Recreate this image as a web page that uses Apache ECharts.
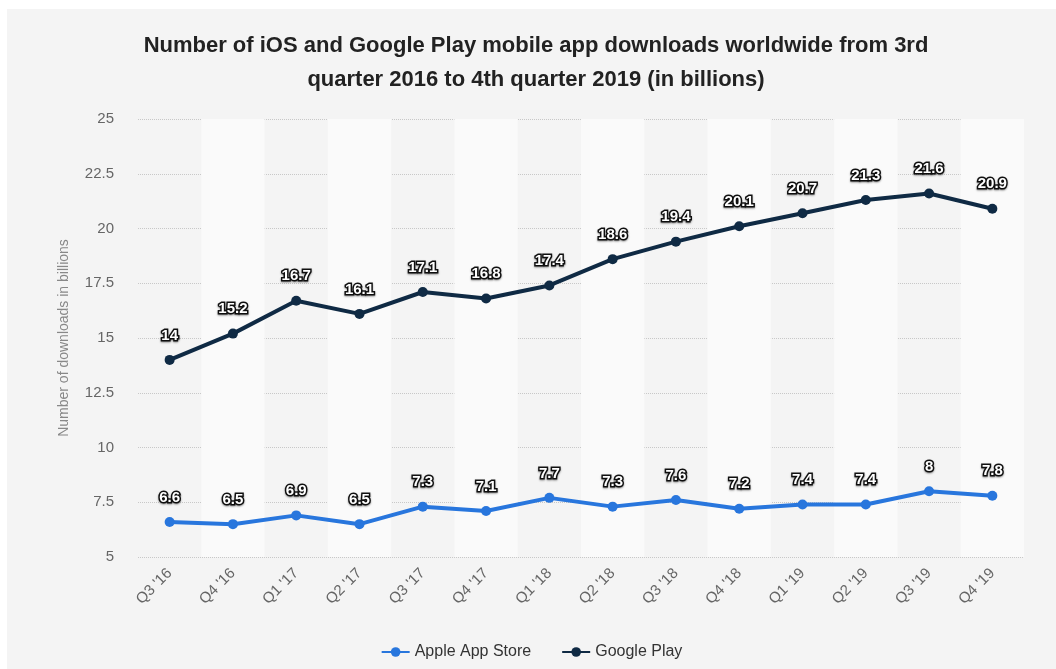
<!DOCTYPE html>
<html>
<head>
<meta charset="utf-8">
<script src="https://cdn.jsdelivr.net/npm/echarts@6/dist/echarts.min.js"></script>
<style>
  html, body { margin: 0; padding: 0; background: #fff; }
  #chart { position: absolute; left: 7px; top: 9px; width: 1049px; height: 660px; background: #f4f4f4; }
</style>
</head>
<body>
<div id="chart"></div>
<script>
const quarters = ["Q3 '16", "Q4 '16", "Q1 '17", "Q2 '17", "Q3 '17", "Q4 '17", "Q1 '18", "Q2 '18", "Q3 '18", "Q4 '18", "Q1 '19", "Q2 '19", "Q3 '19", "Q4 '19"]
const appleAppStore = [6.6, 6.5, 6.9, 6.5, 7.3, 7.1, 7.7, 7.3, 7.6, 7.2, 7.4, 7.4, 8, 7.8]
const googlePlay = [14, 15.2, 16.7, 16.1, 17.1, 16.8, 17.4, 18.6, 19.4, 20.1, 20.7, 21.3, 21.6, 20.9]

const chart = echarts.init(document.getElementById('chart'))

const labelStyle = {
  show: true,
  position: 'top',
  distance: 12,
  color: '#fff',
  fontFamily: 'Liberation Sans',
  fontWeight: 'bold',
  fontSize: 15,
  textBorderColor: '#111',
  textBorderWidth: 3,
  textShadowColor: 'rgba(0,0,0,0.4)',
  textShadowBlur: 2,
  textShadowOffsetY: 1
}

function lineSeries(name, data, color) {
  return {
    name: name,
    type: 'line',
    data: data,
    symbol: 'circle',
    symbolSize: 10,
    lineStyle: { width: 4, color: color },
    itemStyle: { color: color },
    label: labelStyle,
    z: name === 'Google Play' ? 3 : 2
  }
}

chart.setOption({
  animation: false,
  textStyle: { fontFamily: 'Liberation Sans' },
  title: {
    text: 'Number of iOS and Google Play mobile app downloads worldwide from 3rd\nquarter 2016 to 4th quarter 2019 (in billions)',
    left: 529,
    top: 20,
    textAlign: 'center',
    padding: 0,
    textStyle: {
      fontFamily: 'Liberation Sans',
      fontWeight: 'bold',
      fontSize: 22,
      lineHeight: 34,
      color: '#222'
    }
  },
  legend: {
    data: ['Apple App Store', 'Google Play'],
    left: 'center',
    top: 630,
    itemWidth: 28,
    itemHeight: 12,
    itemGap: 30,
    textStyle: { fontSize: 16, color: '#333' }
  },
  grid: {
    left: 131,
    right: 32,
    top: 110,
    bottom: 112,
    containLabel: false
  },
  xAxis: {
    type: 'category',
    data: quarters,
    boundaryGap: true,
    axisLine: { show: false },
    axisTick: { show: false },
    axisLabel: {
      rotate: 45,
      margin: 14,
      fontSize: 15,
      color: '#666'
    },
    splitArea: {
      show: true,
      areaStyle: { color: ['rgba(0,0,0,0)', '#fafafa'] }
    }
  },
  yAxis: {
    type: 'value',
    min: 5,
    max: 25,
    interval: 2.5,
    name: 'Number of downloads in billions',
    nameLocation: 'middle',
    nameGap: 67,
    nameTextStyle: { fontSize: 14, color: '#888' },
    axisLine: { show: false },
    axisTick: { show: false },
    axisLabel: { fontSize: 15, color: '#666', margin: 24 },
    splitLine: {
      lineStyle: { color: '#c8c8c8', type: [1, 1], width: 1 }
    }
  },
  series: [
    lineSeries('Apple App Store', appleAppStore, '#2876dd'),
    lineSeries('Google Play', googlePlay, '#0f2a44')
  ]
})
</script>
</body>
</html>
